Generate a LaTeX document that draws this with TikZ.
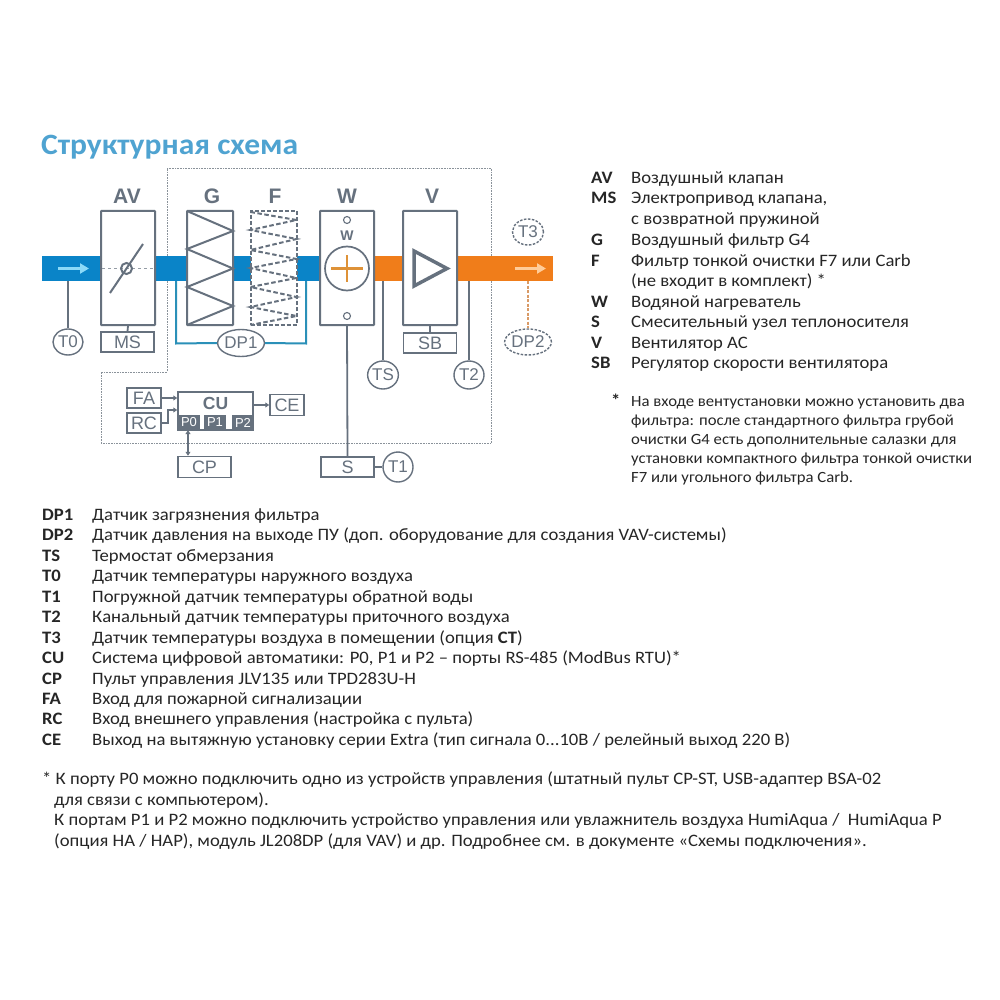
\documentclass[tikz,border=0pt]{standalone}
\usepackage{fontspec}
\setmainfont[FakeStretch=1.07]{Carlito}
\newfontfamily\lbl{Liberation Sans}
\definecolor{gr}{HTML}{66717E}
\definecolor{blu}{HTML}{0A84C8}
\definecolor{org}{HTML}{F07D1A}
\definecolor{ttl}{HTML}{4FA3D1}
\definecolor{txt}{HTML}{262626}
\definecolor{tea}{HTML}{2A90B8}
\definecolor{dot}{HTML}{8A929A}
\definecolor{warm}{HTML}{DE9238}
\definecolor{tan}{HTML}{D99A66}
\usetikzlibrary{shapes.geometric,arrows.meta}
\tikzset{
 box/.style={draw=gr,line width=2pt,rounded corners=0.5pt,fill=white},
 sbox/.style={draw=gr,line width=1.5pt,fill=white,inner sep=0pt,font=\lbl\fontsize{18}{18}\selectfont,text=gr},
 circ/.style={draw=gr,line width=1.4pt,fill=white,ellipse,inner sep=0pt,font=\lbl\fontsize{17}{17}\selectfont,text=gr},
 head/.style={font=\lbl\bfseries\fontsize{21}{21}\selectfont,text=gr},
 lnk/.style={draw=gr,line width=1.8pt},
 key/.style={anchor=base west,inner sep=0pt,font=\fontsize{17.45}{17.45}\selectfont\bfseries,text=txt},
 val/.style={anchor=base west,inner sep=0pt,font=\fontsize{17.45}{17.45}\selectfont,text=txt},
 sval/.style={anchor=base west,inner sep=0pt,font=\fontsize{15.6}{15.6}\selectfont,text=txt},
 flowarrow/.style={-{Triangle[length=9pt,width=10pt]},line width=3.6pt},
 port/.style={fill=gr,text=white,minimum width=22,minimum height=15,inner sep=0pt,font=\lbl\fontsize{13}{13}\selectfont},
 small tip/.style={line width=1.5pt},
 dotc/.style={draw=gr,line width=1.1pt,circle,minimum size=7,inner sep=0pt},
}
\newcommand{\legR}[3]{\node[key] at (591,#3) {#1};\node[val] at (631,#3) {#2};}
\newcommand{\legL}[3]{\node[key] at (42,#3) {#1};\node[val] at (92,#3) {#2};}
\begin{document}
\begin{tikzpicture}[x=1pt,y=-1pt]
\useasboundingbox (0,0) rectangle (1000,1000);
\fill[white] (0,0) rectangle (1000,1000);
\node[anchor=base west,inner sep=0pt,font=\bfseries\fontsize{29.5}{29.5}\selectfont,text=ttl] (title) at (41,155) {Структурная схема};
\draw[dot,densely dotted,line width=.6pt] (167,168) -- (491,168) -- (491,443.5) -- (101,443.5) -- (101,372) -- (167,372) -- cycle;
\fill[blu] (42,256) rectangle (320,281);
\fill[org] (375,256) rectangle (553,281);
\draw[flowarrow,draw=cyan!45!white,fill=cyan!45!white] (58,268.5) -- (89,268.5);
\draw[flowarrow,draw=orange!40!white,fill=orange!40!white] (515,268.5) -- (546,268.5);
% AV
\node[box,minimum width=54,minimum height=114,inner sep=0pt] (av) at (128,268) {};
\draw[gr!70,line width=.5pt,dashed] (102,268.5) -- (154,268.5);
\draw[gr,line width=2pt] (110,293) -- (143,244);
\node[draw=gr,line width=2pt,circle,minimum size=11,inner sep=0pt] (valve) at (126.5,268.5) {};
\node[head] (avh) at (127,196) {AV};
\node[sbox,minimum width=53,minimum height=20] (ms) at (127.5,342) {MS};
\draw[lnk] (av.south) -- (ms.north);
% G
\node[box,minimum width=46,minimum height=114,inner sep=0pt] (g) at (210,268) {};
\draw[gr,line width=2pt] (187,211) -- (233,231) -- (187,249) -- (233,268.5) -- (187,287) -- (233,306) -- (187,325);
\node[head] (gh) at (212,196) {G};
% F
\node[draw=gr,fill=white,line width=2pt,dash pattern=on 4pt off 2pt,minimum width=46,minimum height=114,inner sep=0pt] (f) at (273.5,268) {};
\draw[gr,line width=2pt,dash pattern=on 4.5pt off 2.5pt] (250.5,212) -- (296.5,220) -- (250.5,230) -- (296.5,239) -- (250.5,250) -- (296.5,259) -- (250.5,268) -- (296.5,278) -- (250.5,287) -- (296.5,297) -- (250.5,307) -- (296.5,316) -- (250.5,325);
\node[head] (fh) at (275,196) {F};
% W
\node[box,minimum width=54,minimum height=114,inner sep=0pt] (w) at (347,268) {};
\node[head] (wh) at (347,196) {W};
\node[dotc] (w1) at (347,220) {};
\node[dotc] (w2) at (347,316) {};
\node[font=\lbl\bfseries\fontsize{14}{14}\selectfont,text=gr] (w3) at (347,235.5) {W};
\node[draw=gr,line width=1.7pt,circle,minimum size=44,inner sep=0pt] (wc) at (347,268.5) {};
\draw[warm,line width=2.2pt] (331,268.5) -- (363,268.5) (347,255) -- (347,282);
% V
\node[box,minimum width=54,minimum height=114,inner sep=0pt] (v) at (430,268) {};
\node[head] (vh) at (432,196) {V};
\draw[gr,line width=3.5pt,line join=miter] (414,251) -- (447,268.5) -- (414,286) -- cycle;
\node[sbox,minimum width=53,minimum height=20] (sb) at (430,343) {SB};
\draw[lnk] (v.south) -- (sb.north);
% sensors
\node[circ,minimum width=30,minimum height=26] (t0) at (68,342) {T0};
\coordinate (t0a) at (68,281);
\draw[lnk] (t0a) -- (t0.north);
\node[circ,minimum width=44,minimum height=27] (dp1) at (241,343) {DP1};
\draw[tea,line width=2pt] (176,281) -- (176,343.5) -- (dp1.west) (dp1.east) -- (306,343.5) -- (306,281);
\node[circ,minimum width=30,minimum height=28] (ts) at (383,375) {TS};
\coordinate (tsa) at (383,281);
\draw[lnk] (tsa) -- (ts.north);
\node[circ,minimum width=30,minimum height=28] (t2) at (469,375) {T2};
\coordinate (t2a) at (469,281);
\draw[lnk] (t2a) -- (t2.north);
\node[circ,dashed,dash pattern=on 2.5pt off 1.5pt,minimum width=31,minimum height=26] (t3) at (528,232) {T3};
\node[circ,dash pattern=on 2.5pt off 1.5pt,minimum width=45,minimum height=26] (dp2) at (528,342) {DP2};
\coordinate (dp2a) at (528,281);
\draw[tan,line width=2.5pt,dash pattern=on 3pt off 1.5pt] (dp2a) -- (dp2.north);
% lower
\node[sbox,minimum width=53,minimum height=20] (s) at (347.5,467) {S};
\draw[lnk] (w.south) -- (s.north);
\node[circ,minimum width=30,minimum height=30] (t1) at (398,467) {T1};
\draw[lnk] (s.east) -- (t1.west);
\node[sbox,minimum width=34,minimum height=20] (fa) at (144,398) {FA};
\node[sbox,minimum width=34,minimum height=20] (rc) at (144,423) {RC};
\node[draw=gr,line width=1.5pt,fill=white,minimum width=75,minimum height=38,inner sep=0pt] (cu) at (215.5,411) {};
\node[font=\lbl\bfseries\fontsize{17.5}{17.5}\selectfont,text=gr] (cuh) at (215.5,403) {CU};
\foreach \nm/\xx in {P0/189,P1/215,P2/243}{
 \node[port] (\nm) at (\xx,422.5) {\nm};
}
\node[sbox,minimum width=34,minimum height=21] (ce) at (287,405) {CE};
\node[sbox,minimum width=53,minimum height=21] (cp) at (204.5,467) {CP};
\draw[lnk,small tip,-{Triangle[length=4pt,width=5pt]}] (fa.east) -- (cu.west |- fa.east);
\draw[lnk,small tip,-{Triangle[length=4pt,width=5pt]}] (rc.east) -- (168,423) -- (168,410) -- (cu.west |- 0,410);
\draw[lnk,small tip,-{Triangle[length=4pt,width=5pt]}] (cu.east |- ce.west) -- (ce.west);
\draw[lnk,small tip,{Triangle[length=4pt,width=5pt]}-{Triangle[length=4pt,width=5pt]}] (P0.south -| 188,0) -- (cp.north -| 188,0);
% right legend
\legR{AV}{Воздушный клапан}{184}
\legR{MS}{Электропривод клапана,}{204}
\legR{}{с возвратной пружиной}{225}
\legR{G}{Воздушный фильтр G4}{245}
\legR{F}{Фильтр тонкой очистки F7 или Carb}{266}
\legR{}{(не входит в комплект) *}{286}
\legR{W}{Водяной нагреватель}{307}
\legR{S}{Смесительный узел теплоносителя}{327}
\legR{V}{Вентилятор AC}{348}
\legR{SB}{Регулятор скорости вентилятора}{368}
\node[key] at (611,406) {*};
\node[sval] at (631,406) {На входе вентустановки можно установить два};
\node[sval] at (631,425) {фильтра: после стандартного фильтра грубой};
\node[sval] at (631,444) {очистки G4 есть дополнительные салазки для};
\node[sval] at (631,463) {установки компактного фильтра тонкой очистки};
\node[sval] at (631,482) {F7 или угольного фильтра Carb.};
% lower legend
\legL{DP1}{Датчик загрязнения фильтра}{520}
\legL{DP2}{Датчик давления на выходе ПУ (доп. оборудование для создания VAV-системы)}{540}
\legL{TS}{Термостат обмерзания}{561}
\legL{T0}{Датчик температуры наружного воздуха}{581}
\legL{T1}{Погружной датчик температуры обратной воды}{602}
\legL{T2}{Канальный датчик температуры приточного воздуха}{622}
\legL{T3}{Датчик температуры воздуха в помещении (опция \textbf{CT})}{643}
\legL{CU}{Система цифровой автоматики: P0, P1 и P2 – порты RS-485 (ModBus RTU)*}{663}
\legL{CP}{Пульт управления JLV135 или TPD283U-H}{684}
\legL{FA}{Вход для пожарной сигнализации}{704}
\legL{RC}{Вход внешнего управления (настройка с пульта)}{724}
\legL{CE}{Выход на вытяжную установку серии Extra (тип сигнала 0...10В / релейный выход 220 В)}{745}
\node[val] at (42,784) {* К порту P0 можно подключить одно из устройств управления (штатный пульт CP-ST, USB-адаптер BSA-02};
\node[val] at (54,805) {для связи с компьютером).};
\node[val] at (54,825) {К портам P1 и P2 можно подключить устройство управления или увлажнитель воздуха HumiAqua /\ \ HumiAqua P};
\node[val] at (54,846) {(опция HA / HAP), модуль JL208DP (для VAV) и др. Подробнее см. в документе «Схемы подключения».};
\end{tikzpicture}
\end{document}
